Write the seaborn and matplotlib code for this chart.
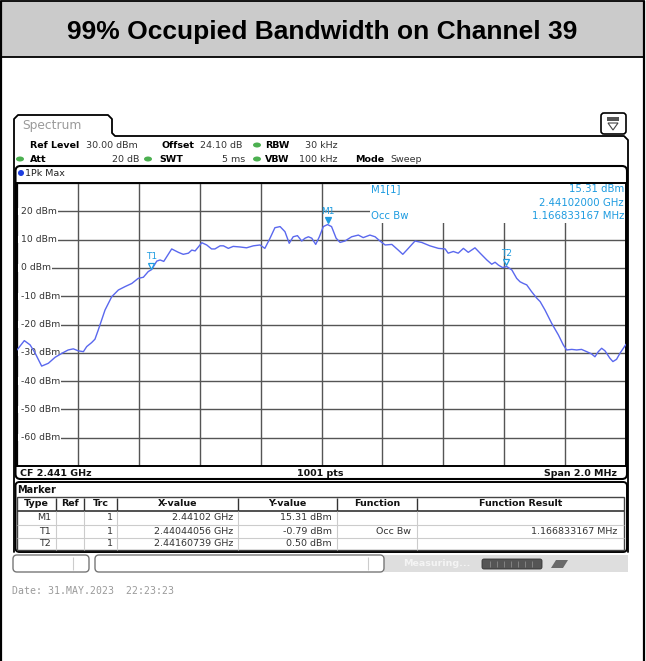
import numpy as np
import pandas as pd
import seaborn as sns
import matplotlib.pyplot as plt
from matplotlib.patches import FancyBboxPatch, Rectangle, Ellipse, Circle, Polygon
from matplotlib.lines import Line2D
from matplotlib.transforms import Affine2D, ScaledTranslation

# ---- measured trace (offset from start frequency in MHz, level in dBm) ----
freq_offset_mhz = [
    0.000, 0.024, 0.043, 0.059, 0.081, 0.103, 0.125, 0.147, 0.168, 0.185,
    0.201, 0.218, 0.229, 0.245, 0.256, 0.267, 0.278, 0.289, 0.311, 0.333,
    0.355, 0.377, 0.398, 0.415, 0.431, 0.442, 0.459, 0.470, 0.482, 0.508,
    0.530, 0.546, 0.563, 0.574, 0.585, 0.607, 0.623, 0.639, 0.650, 0.667,
    0.678, 0.694, 0.710, 0.732, 0.754, 0.776, 0.798, 0.814, 0.831, 0.847,
    0.864, 0.880, 0.894, 0.907, 0.921, 0.935, 0.946, 0.957, 0.968, 0.981,
    0.993, 1.006, 1.020, 1.033, 1.048, 1.061, 1.077, 1.099, 1.121, 1.137,
    1.159, 1.176, 1.192, 1.209, 1.231, 1.252, 1.267, 1.280, 1.307, 1.329,
    1.356, 1.384, 1.406, 1.416, 1.433, 1.449, 1.466, 1.482, 1.504, 1.521,
    1.543, 1.559, 1.570, 1.581, 1.595, 1.608, 1.625, 1.641, 1.652, 1.663,
    1.674, 1.690, 1.707, 1.718, 1.734, 1.756, 1.778, 1.794, 1.805, 1.822,
    1.838, 1.854, 1.871, 1.887, 1.898, 1.909, 1.920, 1.931, 1.947, 1.957,
    1.969, 1.980, 2.000,
]
level_dbm = [
    -29.0, -25.7, -27.2, -30.0, -34.7, -33.7, -31.6, -30.2, -29.0, -28.6,
    -29.3, -29.6, -27.8, -26.4, -25.2, -21.9, -18.4, -14.9, -10.2, -7.8,
    -6.6, -5.5, -3.7, -3.3, -1.3, -0.6, 2.4, 2.8, 2.3, 6.7,
    5.5, 4.8, 5.2, 6.3, 6.0, 8.9, 8.1, 6.7, 6.7, 7.8,
    7.8, 6.9, 7.6, 7.4, 7.1, 7.8, 8.1, 6.9, 10.5, 14.2,
    14.6, 12.8, 8.7, 11.0, 11.4, 9.5, 10.5, 11.0, 10.5, 8.3,
    11.0, 14.6, 15.31, 14.6, 10.5, 9.0, 9.5, 11.0, 11.6, 10.7,
    11.6, 11.0, 9.5, 8.1, 8.3, 6.3, 4.8, 6.3, 9.5, 9.0,
    7.8, 6.9, 6.7, 5.2, 5.8, 5.2, 6.9, 5.5, 7.1, 5.2,
    2.8, 1.3, 2.0, 1.0, 0.1, 0.5, -0.7, -3.7, -4.9, -5.5,
    -6.0, -8.4, -10.7, -11.9, -14.9, -19.6, -23.7, -27.2, -29.0, -28.8,
    -29.0, -28.8, -29.6, -30.4, -31.4, -29.6, -28.4, -29.3, -31.9, -33.1,
    -32.3, -30.2, -27.0,
]

center_ghz = 2.441
span_mhz = 2.0
ref_level_dbm = 30
n_divisions = 10
grid_labels_dbm = [20, 10, 0, -10, -20, -30, -40, -50, -60]

marker_names = ["M1", "T1", "T2"]
marker_x_ghz = [2.44102, 2.44044056, 2.44160739]
marker_y_dbm = [15.31, -0.79, 0.50]
marker_x_text = ["2.44102 GHz", "2.44044056 GHz", "2.44160739 GHz"]
marker_y_text = ["15.31 dBm", "-0.79 dBm", "0.50 dBm"]
marker_function = ["", "Occ Bw", ""]
marker_result = ["", "1.166833167 MHz", ""]
occ_bw_text = "1.166833167 MHz"

# ---- figure & pixel-coordinate helpers ----
W, H = 646, 661
sns.set_theme(style="white")
plt.rcParams["font.family"] = ["DejaVu Sans"]
fig = plt.figure(figsize=(W / 100, H / 100), dpi=100)
fig.patch.set_facecolor("white")
px = Affine2D().scale(1 / W, -1 / H).translate(0, 1) + fig.transFigure

BLUE = "#1d9be0"
TRACE = "#5a68ee"
GREEN = "#4cb050"
SMALL = 6.8


def txt(x, y, s, size=SMALL, color="#333333", weight="normal", ha="left",
        va="center", z=4, **kw):
    return fig.text(x, y, s, transform=px, fontsize=size, color=color,
                    fontweight=weight, ha=ha, va=va, zorder=z, **kw)


def rbox(x, y, w, h, r=0, fc="white", ec="black", lw=1.0, z=1):
    style = f"round,pad=0,rounding_size={r}" if r else "square,pad=0"
    p = FancyBboxPatch((x, y), w, h, boxstyle=style, transform=px,
                       facecolor=fc, edgecolor=ec, linewidth=lw, zorder=z)
    fig.add_artist(p)
    return p


def line(xs, ys, color="black", lw=1.0, z=1.5):
    fig.add_artist(Line2D(xs, ys, transform=px, color=color, linewidth=lw,
                          zorder=z, solid_capstyle="butt"))


# ---- title band and outer frame ----
fig.add_artist(Rectangle((1, 1), 643, 56, transform=px, facecolor="#cbcbcb",
                         edgecolor="black", linewidth=1.3, zorder=1))
txt(322, 32, "99% Occupied Bandwidth on Channel 39", size=19,
    color="black", weight="bold", ha="center", family="Liberation Sans")
line([1, 1], [1, 661], lw=1.6, z=5)
line([644, 644], [1, 661], lw=1.6, z=5)

# ---- instrument tab and panel outline ----
tab = [(14, 552), (14, 119), (18, 115), (108, 115), (112, 119), (112, 133),
       (115, 136), (624, 136), (628, 140), (628, 552)]
fig.add_artist(Line2D([p[0] for p in tab], [p[1] for p in tab], transform=px,
                      color="black", linewidth=1.3, zorder=1.5))
txt(22, 126, "Spectrum", size=8.8, color="#9a9a9a")

# settings icon
rbox(601, 113, 25, 21, r=3, lw=1.2)
fig.add_artist(Rectangle((607, 117), 12, 4, transform=px, facecolor="#555555",
                         edgecolor="none", zorder=2))
fig.add_artist(Polygon([(608, 123), (618, 123), (613, 130)], closed=True,
                       transform=px, facecolor="none", edgecolor="#444444",
                       linewidth=0.8, zorder=2))

# ---- settings header ----
def dot(x, y):
    fig.add_artist(Ellipse((x, y), 8, 5, transform=px, facecolor=GREEN,
                           edgecolor="none", zorder=3))


txt(30, 145, "Ref Level", weight="bold", color="black")
txt(86, 145, "30.00 dBm")
txt(162, 145, "Offset", weight="bold", color="black")
txt(200, 145, "24.10 dB")
dot(257, 145)
txt(265, 145, "RBW", weight="bold", color="black")
txt(305, 145, "30 kHz")

dot(20, 159)
txt(30, 159, "Att", weight="bold", color="black")
txt(139, 159, "20 dB", ha="right")
dot(148, 159)
txt(159, 159, "SWT", weight="bold", color="black")
txt(245, 159, "5 ms", ha="right")
dot(257, 159)
txt(265, 159, "VBW", weight="bold", color="black")
txt(299, 159, "100 kHz")
txt(355, 159, "Mode", weight="bold", color="black")
txt(390, 159, "Sweep")

# ---- diagram box ----
rbox(15.5, 166, 611.5, 313, r=5, lw=1.5)
fig.add_artist(Circle((21, 173), 3, transform=px, facecolor="#1d3ee0",
                      edgecolor="none", zorder=3))
txt(25, 173, "1Pk Max", color="#222222")
txt(20, 473, "CF 2.441 GHz", weight="bold", color="#111111")
txt(320, 473, "1001 pts", weight="bold", color="#111111", ha="center")
txt(617, 473, "Span 2.0 MHz", weight="bold", color="#111111", ha="right")

# ---- spectrum trace ----
f_start = center_ghz - span_mhz / 2000
f_stop = center_ghz + span_mhz / 2000
df = pd.DataFrame({
    "freq_ghz": f_start + np.array(freq_offset_mhz) / 1000,
    "level_dbm": level_dbm,
})

ax = fig.add_axes([17 / W, 1 - 466 / H, 609 / W, 283 / H])
ax.set_zorder(2)
ax.set_facecolor("white")
sns.lineplot(data=df, x="freq_ghz", y="level_dbm", ax=ax, color=TRACE,
             linewidth=1.0, estimator=None, sort=False, zorder=3)
ax.set_xlim(f_start, f_stop)
ax.set_ylim(ref_level_dbm - 100, ref_level_dbm)
ax.set_xticks(np.linspace(f_start, f_stop, n_divisions + 1))
ax.set_yticks(np.arange(ref_level_dbm - 100, ref_level_dbm + 1, 10))
ax.tick_params(length=0, labelbottom=False, labelleft=False)
ax.set_xlabel("")
ax.set_ylabel("")
ax.set_axisbelow(True)
ax.grid(True, color="#555555", linewidth=1.0)
for s in ax.spines.values():
    s.set_color("black")
    s.set_linewidth(1.4)

ylab_tf = ax.get_yaxis_transform()
for v in grid_labels_dbm:
    ax.add_patch(Rectangle((0, v - 1.3), 6 / 609, 2.6, transform=ylab_tf,
                           facecolor="white", edgecolor="none", zorder=1.4))
    ax.text(4 / 609, v, f"{v} dBm", transform=ylab_tf,
            fontsize=6.7, color="#333333", ha="left", va="center", zorder=1.5,
            bbox=dict(facecolor="white", edgecolor="none", pad=0.6))

# marker readout area
ax.add_patch(Rectangle((370, 184), 255, 39, transform=px, facecolor="white",
                       edgecolor="none", zorder=2.2))
txt(371, 189, "M1[1]", size=7.3, color=BLUE)
txt(624, 189, marker_y_text[0], size=7.3, color=BLUE, ha="right")
txt(624, 203, "2.44102000 GHz", size=7.3, color=BLUE, ha="right")
txt(371, 216, "Occ Bw", size=7.3, color=BLUE)
txt(624, 216, occ_bw_text, size=7.3, color=BLUE, ha="right")

# markers on the trace
lift = ax.transData + ScaledTranslation(0, 3.2 / 72, fig.dpi_scale_trans)
for name, mx, my in zip(marker_names, marker_x_ghz, marker_y_dbm):
    filled = name.startswith("M")
    ax.plot([mx], [my], marker="v", markersize=5, transform=lift,
            markerfacecolor=BLUE if filled else "white",
            markeredgecolor=BLUE, markeredgewidth=0.9, linestyle="none",
            zorder=4)
    ax.annotate(name, (mx, my), xytext=(0, 9.7), textcoords="offset points",
                ha="center", va="center", fontsize=6.5, color=BLUE, zorder=4)

# ---- marker table ----
rbox(15.5, 482, 611.5, 70, r=4, lw=1.4)
txt(17, 490, "Marker", weight="bold", color="#111111", size=7)
fig.add_artist(Rectangle((17, 497), 607, 53, transform=px, facecolor="white",
                         edgecolor="#444444", linewidth=1.0, zorder=1.6))
line([17, 624], [511, 511], color="#333333", lw=1.2, z=2)
for yy in (524.5, 537.5):
    line([17, 624], [yy, yy], color="#cccccc", lw=0.8, z=2)
col_edges = [17, 56, 84, 117, 238, 337, 417, 624]
for xe in col_edges[1:-1]:
    line([xe, xe], [498, 511], color="#333333", lw=1.0, z=2)
    line([xe, xe], [511, 550], color="#cccccc", lw=0.8, z=2)
headers = ["Type", "Ref", "Trc", "X-value", "Y-value", "Function",
           "Function Result"]
for i, hd in enumerate(headers):
    txt((col_edges[i] + col_edges[i + 1]) / 2, 504, hd, weight="bold",
        color="#111111", ha="center")
row_y = [518, 531, 544]
for i, name in enumerate(marker_names):
    y = row_y[i]
    txt(col_edges[1] - 5, y, name, ha="right")
    txt(col_edges[3] - 4, y, "1", ha="right")
    txt(col_edges[4] - 5, y, marker_x_text[i], ha="right")
    txt(col_edges[5] - 5, y, marker_y_text[i], ha="right")
    txt(col_edges[6] - 6, y, marker_function[i], ha="right")
    txt(col_edges[7] - 7, y, marker_result[i], ha="right")

# ---- status bar ----
fig.add_artist(Rectangle((384, 555), 244, 17, transform=px, facecolor="#dedede",
                         edgecolor="none", zorder=1))
rbox(13, 555, 76, 17, r=4, ec="#777777", lw=1.0, z=1.2)
line([73, 73], [557, 570], color="#cccccc", lw=0.8, z=1.3)
rbox(95, 555, 289, 17, r=4, ec="#777777", lw=1.0, z=1.2)
line([368, 368], [557, 570], color="#cccccc", lw=0.8, z=1.3)
txt(403, 564, "Measuring...", size=6.8, color="#f4f4f4", weight="bold")
rbox(482, 559, 60, 10, r=2, fc="#555555", ec="#333333", lw=0.6, z=1.3)
for xs in np.arange(490, 538, 7):
    line([xs, xs], [561, 567], color="#8a8a8a", lw=0.6, z=1.4)
fig.add_artist(Polygon([(551, 568), (556, 560), (568, 560), (563, 568)],
                       closed=True, transform=px, facecolor="#6a6a6a",
                       edgecolor="none", zorder=1.4))

txt(12, 591, "Date: 31.MAY.2023  22:23:23", size=7.1, color="#9a9a9a",
    family="DejaVu Sans Mono")

fig.savefig("out.png", dpi=100, facecolor="white")
